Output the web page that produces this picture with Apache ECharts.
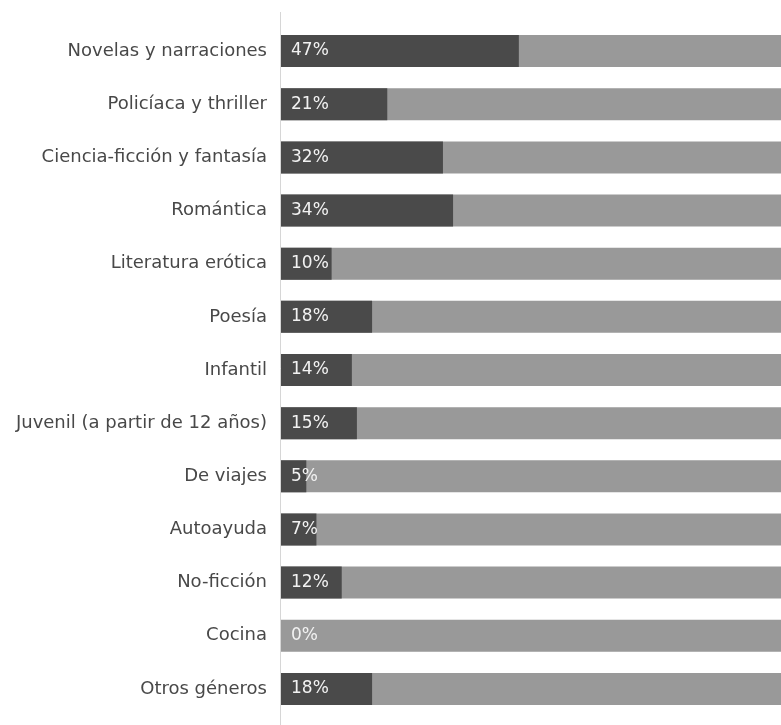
<!DOCTYPE html>
<html><head><meta charset="utf-8">
<script src="https://cdn.jsdelivr.net/npm/echarts@6/dist/echarts.min.js"></script>
<style>html,body{margin:0;padding:0;background:#fff}#c{width:781px;height:725px}</style>
</head><body><div id="c"></div>
<script>
const categories = ["Novelas y narraciones","Policíaca y thriller","Ciencia-ficción y fantasía","Romántica","Literatura erótica","Poesía","Infantil","Juvenil (a partir de 12 años)","De viajes","Autoayuda","No-ficción","Cocina","Otros géneros"];
const values = [47,21,32,34,10,18,14,15,5,7,12,0,18];
const totals = [100,100,100,100,100,100,100,100,100,100,100,100,100];

const chart = echarts.init(document.getElementById('c'));
chart.setOption({
  animation:false,
  grid:{left:281, right:0, top:24.5, bottom:9.5},
  xAxis:{type:'value', min:0, max:98.8, show:false},
  yAxis:{type:'category', data:categories, inverse:true,
    axisLine:{show:false}, axisTick:{show:false},
    axisLabel:{color:'#484848', fontSize:18, fontFamily:'DejaVu Sans', margin:14}},
  graphic:[{type:'line', shape:{x1:280.5,y1:12,x2:280.5,y2:725}, style:{stroke:'#d6d6d6', lineWidth:1}}],
  series:[
    {type:'bar', data:totals, barWidth:32, barGap:'-100%', clip:true, itemStyle:{color:'#999999'}, silent:true},
    {type:'bar', data:values, barWidth:32, clip:true, itemStyle:{color:'#4a4a4a'},
      label:{show:true, position:'insideLeft', distance:10, formatter:'{c}%', color:'#f2f2f2', fontSize:17, fontFamily:'DejaVu Sans'}}
  ]
});
</script></body></html>
